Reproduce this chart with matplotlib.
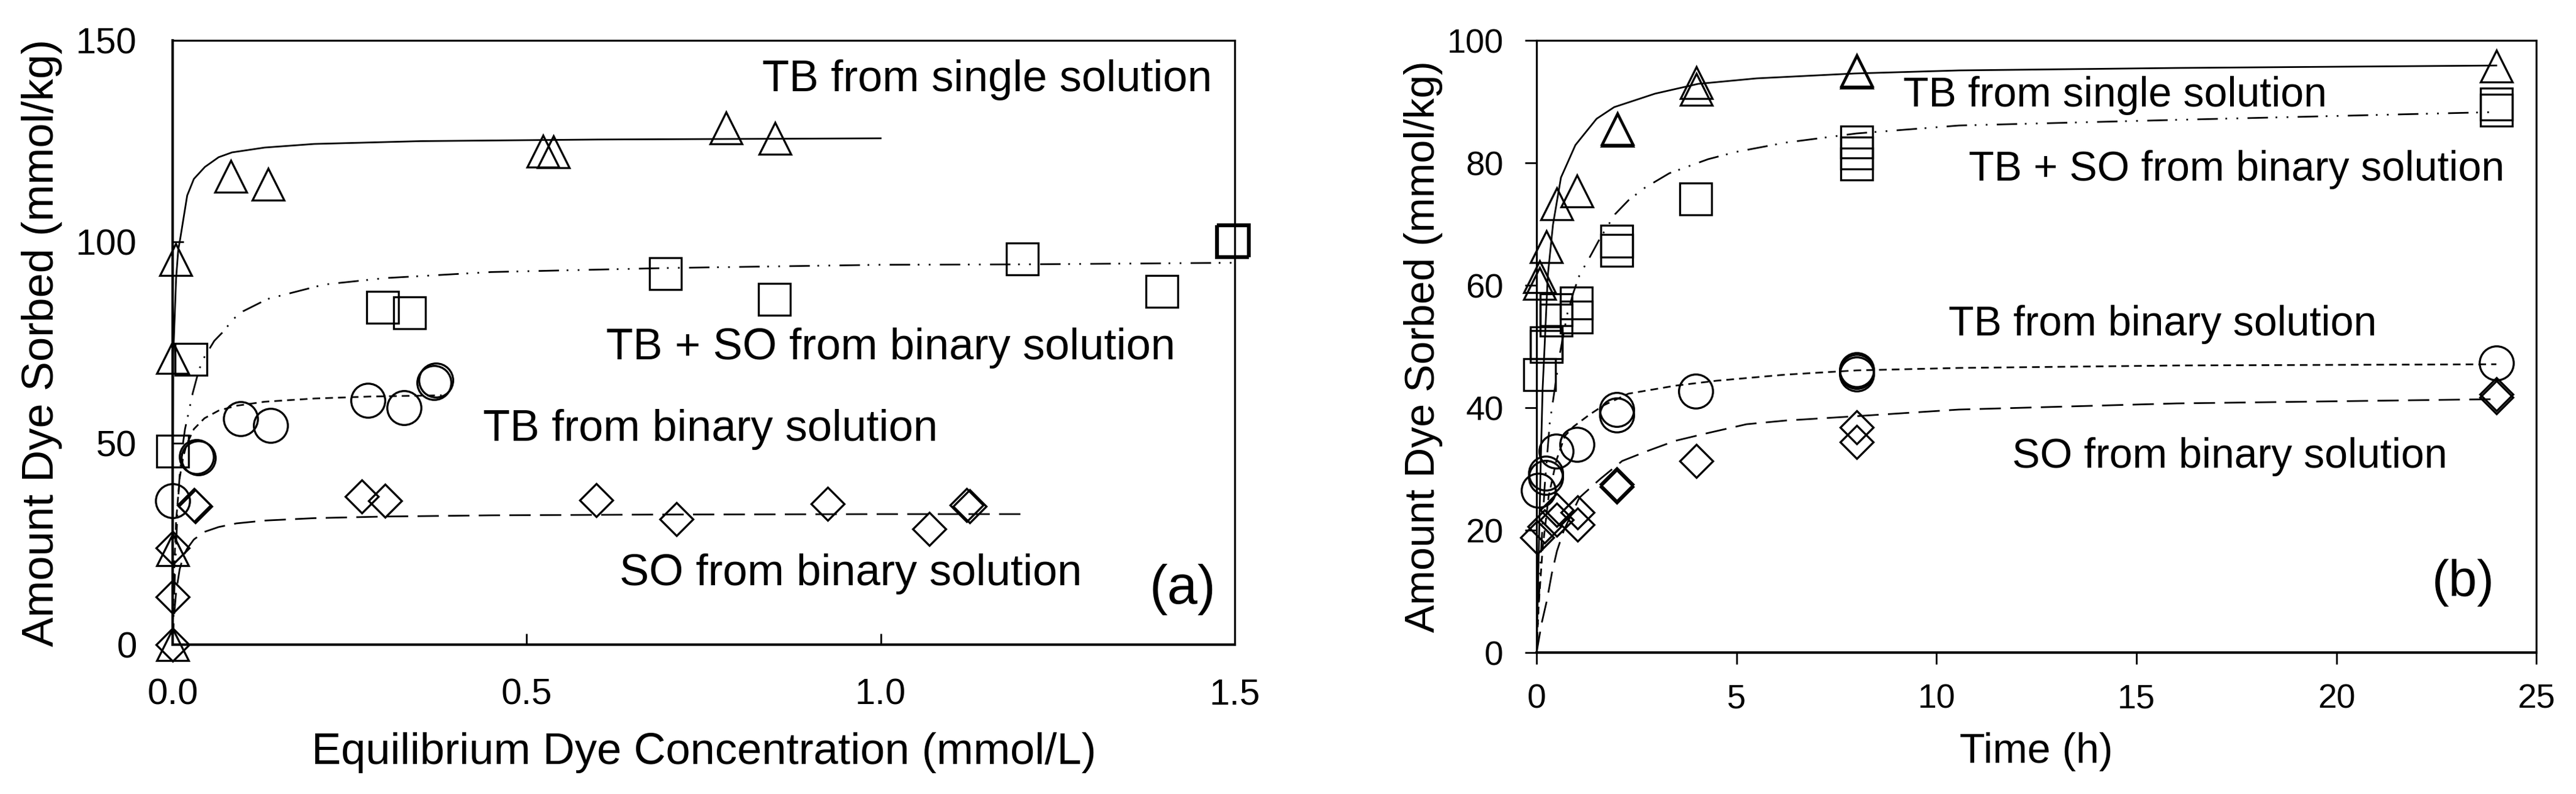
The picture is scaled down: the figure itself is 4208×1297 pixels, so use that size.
import matplotlib
matplotlib.use('Agg')
import matplotlib.pyplot as plt

plt.rcParams['font.family'] = ['Liberation Sans', 'DejaVu Sans']
plt.rcParams['lines.scale_dashes'] = False

# ---- (a) isotherms: equilibrium conc (mmol/L) vs amount sorbed (mmol/kg)
tb_single_c = [0, 0, 0, 0.004, 0.082, 0.135, 0.523, 0.538, 0.782, 0.851]
tb_single_q = [0, 23.5, 71.3, 95.6, 116.3, 114.3, 122.5, 122.3, 128.2, 125.7]
tbso_c = [0, 0.026, 0.297, 0.335, 0.696, 0.850, 1.200, 1.397, 1.496, 1.498]
tbso_q = [48.0, 70.8, 83.7, 82.4, 92.1, 85.7, 95.7, 87.7, 100.0, 100.4]
tb_bin_c = [0, 0.0334, 0.036, 0.096, 0.138, 0.276, 0.327, 0.369, 0.372]
tb_bin_q = [35.7, 46.7, 46.4, 56.1, 54.4, 60.7, 58.8, 65.0, 65.6]
so_bin_c = [0, 0, 0, 0.030, 0.032, 0.2675, 0.300, 0.598, 0.712, 0.925, 1.069, 1.121, 1.126]
so_bin_q = [0, 11.9, 24.0, 34.7, 34.3, 36.8, 35.7, 35.9, 31.2, 34.9, 28.7, 34.7, 34.4]

# fitted curves
fit_single_c = [0, 0.001, 0.005, 0.008, 0.011, 0.0206, 0.03, 0.0457, 0.065, 0.084, 0.13, 0.2, 0.35, 0.6, 1.0]
fit_single_q = [0, 72, 91, 98, 101, 111.5, 115.6, 118.6, 121.0, 122.2, 123.4, 124.3, 125.0, 125.4, 125.7]
fit_tbso_c = [0, 0.003, 0.0069, 0.0098, 0.0135, 0.0175, 0.0227, 0.0285, 0.0343, 0.0415, 0.0588,
              0.0732, 0.0847, 0.1, 0.134, 0.214, 0.3, 0.45, 0.7, 1.0, 1.2, 1.5]
fit_tbso_q = [0, 16, 32.9, 41.5, 48.5, 53.5, 57.7, 62.5, 66.3, 70.4, 75.4,
              78.0, 80.7, 82.8, 85.8, 89.4, 91.0, 92.5, 93.5, 94.3, 94.4, 94.8]
fit_tbbin_c = [0, 0.002, 0.005, 0.01, 0.015, 0.02, 0.03, 0.045, 0.065, 0.09, 0.13, 0.2, 0.28, 0.38]
fit_tbbin_q = [0, 17.5, 30.8, 41.3, 46.6, 49.8, 53.5, 56.2, 58.1, 59.3, 60.3, 61.1, 61.6, 61.9]
fit_so_c = [0, 0.002, 0.005, 0.01, 0.015, 0.02, 0.03, 0.045, 0.065, 0.09, 0.13, 0.2, 0.3, 0.45, 0.7, 1.0, 1.2]
fit_so_q = [0, 6.9, 13.1, 18.7, 21.8, 23.7, 26.1, 28.0, 29.2, 30.1, 30.8, 31.4, 31.8, 32.1, 32.3, 32.4, 32.4]

# ---- (b) kinetics: time (h) vs amount sorbed (mmol/kg)
k_single_t = [0.083, 0.083, 0.245, 0.5, 1.01, 2.02, 2.02, 4, 4, 8, 8, 24]
k_single_q = [61.4, 60.3, 66.3, 73.3, 75.4, 85.6, 85.3, 93.1, 92.0, 95.1, 94.8, 95.8]
k_tbso_t = [0.077, 0.25, 0.25, 0.49, 0.49, 1.0, 1.0, 2.0, 2.0, 3.98, 8, 8, 8, 24, 24]
k_tbso_q = [45.4, 50.6, 50.0, 56.0, 54.3, 57.1, 54.8, 67.2, 65.7, 74.1, 83.4, 81.6, 79.8, 89.6, 88.6]
k_tbbin_t = [0.05, 0.23, 0.23, 0.49, 1.01, 2.0, 2.0, 3.98, 8, 8, 8, 24]
k_tbbin_q = [26.5, 29.3, 28.6, 32.9, 34.0, 39.7, 38.8, 42.7, 46.2, 45.9, 45.5, 47.3]
k_so_t = [0.02, 0.2, 0.5, 0.5, 1.02, 1.02, 2.0, 2.0, 4.0, 8, 8, 24, 24]
k_so_q = [18.8, 20.6, 23.3, 21.7, 22.9, 20.9, 27.5, 27.1, 31.3, 36.8, 34.4, 42.2, 41.7]

kfit_single_t = [0, 0.1, 0.15, 0.2, 0.28, 0.41, 0.61, 0.97, 1.5, 1.94, 2.96, 4.04, 5.5, 7.95, 10.56, 16, 24]
kfit_single_q = [0, 30, 43, 50, 61.6, 69.9, 77.6, 82.9, 87.2, 89.1, 91.3, 92.9, 93.8, 94.6, 95.1, 95.5, 95.9]
kfit_tbso_t = [0, 0.1, 0.2, 0.33, 0.41, 0.59, 0.77, 0.92, 1.07, 1.33, 1.58, 1.96, 2.3, 2.7,
               3.32, 4.29, 5.0, 6.22, 8, 10.56, 16.46, 24]
kfit_tbso_q = [0, 15, 27, 37.6, 41.1, 49.1, 55.4, 58.8, 61.6, 64.6, 67.6, 71.6, 73.9, 75.9,
               78.3, 80.6, 81.8, 83.3, 84.8, 86.1, 87.1, 88.3]
kfit_tbbin_t = [0, 0.05, 0.15, 0.3, 0.5, 0.71, 0.92, 1.33, 1.68, 2.3, 3.47, 4.49, 6.22, 8, 10.56, 16, 24]
kfit_tbbin_q = [0, 7.4, 17, 25.5, 31.5, 35.4, 36.9, 38.9, 40.4, 42.3, 43.6, 44.4, 45.4, 46.1, 46.5, 46.9, 47.1]
kfit_so_t = [0, 0.13, 0.26, 0.38, 0.51, 0.69, 1.07, 1.58, 2.14, 2.76, 3.47, 4.24, 5.25, 6.22, 7.95, 10.56, 16, 24]
kfit_so_q = [0, 4.9, 8.6, 12.9, 16.6, 20.1, 25.3, 28.3, 31.3, 32.9, 34.6, 35.8, 37.3, 37.9, 38.6, 39.7, 40.7, 41.4]

# line styles (points)
dash_dot_dot = (0, (24, 9, 2, 11, 2, 11))
short_dash = (0, (9, 6))
long_dash = (0, (25, 11))
LW = 2.0
MEW = 2.4


def markers(ax, x, y, m, ms):
    ax.plot(x, y, linestyle='none', marker=m, ms=ms, mfc='none', mec='black',
            mew=MEW, clip_on=False, zorder=3)


fig = plt.figure(figsize=(42.08, 12.97), dpi=100)

# ================= panel (a)
ax1 = fig.add_axes([0.0670, 0.1881, 0.4123, 0.7610])
ax1.plot(fit_single_c, fit_single_q, color='black', lw=LW, ls='-')
ax1.plot(fit_tbso_c, fit_tbso_q, color='black', lw=LW, ls=dash_dot_dot)
ax1.plot(fit_tbbin_c, fit_tbbin_q, color='black', lw=LW, ls=short_dash)
ax1.plot(fit_so_c, fit_so_q, color='black', lw=LW, ls=long_dash)
markers(ax1, tb_single_c, tb_single_q, '^', 37)
markers(ax1, tbso_c, tbso_q, 's', 38)
markers(ax1, tb_bin_c, tb_bin_q, 'o', 40)
markers(ax1, so_bin_c, so_bin_q, 'D', 27)

ax1.set_xlim(0, 1.5)
ax1.set_ylim(0, 150)
ax1.set_xticks([0, 0.5, 1.0, 1.5])
ax1.set_xticklabels(['0.0', '0.5', '1.0', '1.5'])
ax1.set_yticks([0, 50, 100, 150])
ax1.tick_params(axis='both', direction='in', length=13, width=2, labelsize=43)
ax1.tick_params(axis='x', pad=39)
ax1.tick_params(axis='y', pad=42)
ax1.set_xlabel('Equilibrium Dye Concentration (mmol/L)', fontsize=52)
ax1.set_ylabel('Amount Dye Sorbed (mmol/kg)', fontsize=52)
ax1.xaxis.set_label_coords(0.5, -0.145)
ax1.yaxis.set_label_coords(-0.104, 0.5)
for s in ['left', 'bottom']:
    ax1.spines[s].set_linewidth(3)
for s in ['top', 'right']:
    ax1.spines[s].set_linewidth(2.3)

ax1.text(1.468, 137.4, 'TB from single solution', fontsize=52, ha='right', va='baseline')
ax1.text(0.612, 70.8, 'TB + SO from binary solution', fontsize=52, ha='left', va='baseline')
ax1.text(0.438, 50.6, 'TB from binary solution', fontsize=52, ha='left', va='baseline')
ax1.text(0.631, 14.8, 'SO from binary solution', fontsize=52, ha='left', va='baseline')
ax1.text(1.473, 13.7, '(a)', fontsize=64, ha='right', va='center')

# ================= panel (b)
ax2 = fig.add_axes([0.5965, 0.1781, 0.3881, 0.7710])
ax2.plot(kfit_single_t, kfit_single_q, color='black', lw=LW, ls='-')
ax2.plot(kfit_tbso_t, kfit_tbso_q, color='black', lw=LW, ls=dash_dot_dot)
ax2.plot(kfit_tbbin_t, kfit_tbbin_q, color='black', lw=LW, ls=short_dash)
ax2.plot(kfit_so_t, kfit_so_q, color='black', lw=LW, ls=long_dash)
markers(ax2, k_single_t, k_single_q, '^', 37)
markers(ax2, k_tbso_t, k_tbso_q, 's', 38)
markers(ax2, k_tbbin_t, k_tbbin_q, 'o', 40)
markers(ax2, k_so_t, k_so_q, 'D', 27)

ax2.set_xlim(0, 25)
ax2.set_ylim(0, 100)
ax2.set_xticks([0, 5, 10, 15, 20, 25])
ax2.set_yticks([0, 20, 40, 60, 80, 100])
ax2.tick_params(axis='both', direction='out', length=14, width=2, labelsize=40)
ax2.tick_params(axis='x', pad=22)
ax2.tick_params(axis='y', pad=25)
ax2.set_xlabel('Time (h)', fontsize=49)
ax2.set_ylabel('Amount Dye Sorbed (mmol/kg)', fontsize=49)
ax2.xaxis.set_label_coords(0.5, -0.130)
ax2.yaxis.set_label_coords(-0.094, 0.5)
ax2.spines['left'].set_linewidth(2.3)
ax2.spines['bottom'].set_linewidth(3)
for s in ['top', 'right']:
    ax2.spines[s].set_linewidth(2.3)

ax2.text(9.17, 89.2, 'TB from single solution', fontsize=49, ha='left', va='baseline')
ax2.text(10.8, 77.1, 'TB + SO from binary solution', fontsize=49, ha='left', va='baseline')
ax2.text(10.3, 51.8, 'TB from binary solution', fontsize=49, ha='left', va='baseline')
ax2.text(11.9, 30.2, 'SO from binary solution', fontsize=49, ha='left', va='baseline')
ax2.text(23.95, 11.4, '(b)', fontsize=60, ha='right', va='center')

fig.savefig('out.png', dpi=100)
